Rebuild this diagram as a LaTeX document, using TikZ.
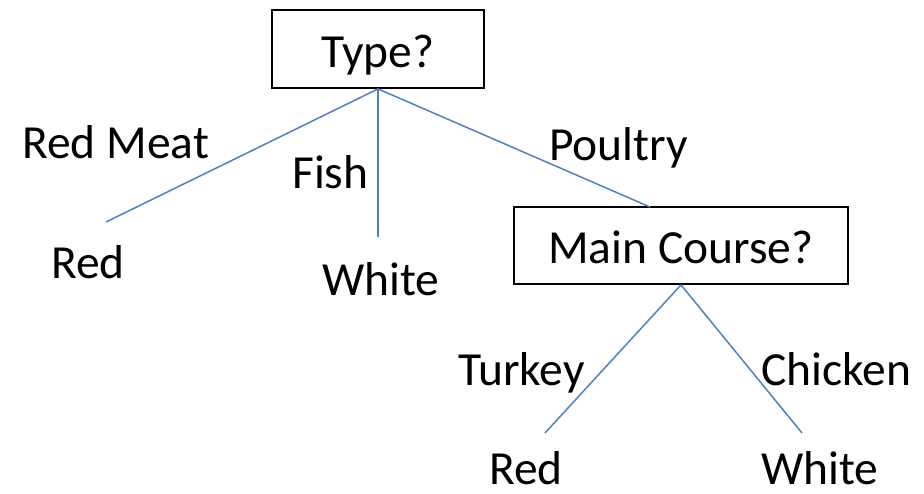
\documentclass[tikz,border=0pt]{standalone}
\usepackage{fontspec}
\setmainfont{Carlito}
\definecolor{edgeblue}{HTML}{4F81BD}
\begin{document}
\begin{tikzpicture}[x=1pt,y=-1pt,
  box/.style={draw=black,line width=1.8pt,rectangle,inner sep=0pt,
    text height=38pt,text depth=2pt,font=\fontsize{47.5}{56}\selectfont},
  lbl/.style={inner sep=0pt,anchor=base west,font=\fontsize{47.5}{56}\selectfont},
  edge/.style={draw=edgeblue,line width=1.5pt}]
\useasboundingbox (0,0) rectangle (924,493);
\node[box,minimum width=212pt,minimum height=78pt] (type) at (378,49) {Type?};
\node[box,minimum width=334pt,minimum height=77pt] (main) at (681,245.5) {Main Course?};
\coordinate (e1) at (106,222);
\coordinate (e2) at (378,237);
\coordinate (e3) at (650,207);
\coordinate (e4) at (545,433);
\coordinate (e5) at (802,433);
\draw[edge] (type.south) -- (e1);
\draw[edge] (type.south) -- (e2);
\draw[edge] (type.south) -- (e3);
\draw[edge] (main.south) -- (e4);
\draw[edge] (main.south) -- (e5);
\node[lbl] (lredmeat) at (22,158) {Red Meat};
\node[lbl] (lfish) at (292,188) {Fish};
\node[lbl] (lpoultry) at (549,160) {Poultry};
\node[lbl] (lred1) at (51,278) {Red};
\node[lbl] (lwhite1) at (322,295) {White};
\node[lbl] (lturkey) at (458,385) {Turkey};
\node[lbl] (lchicken) at (761,385) {Chicken};
\node[lbl] (lred2) at (489,484) {Red};
\node[lbl] (lwhite2) at (761,484) {White};
\end{tikzpicture}
\end{document}
